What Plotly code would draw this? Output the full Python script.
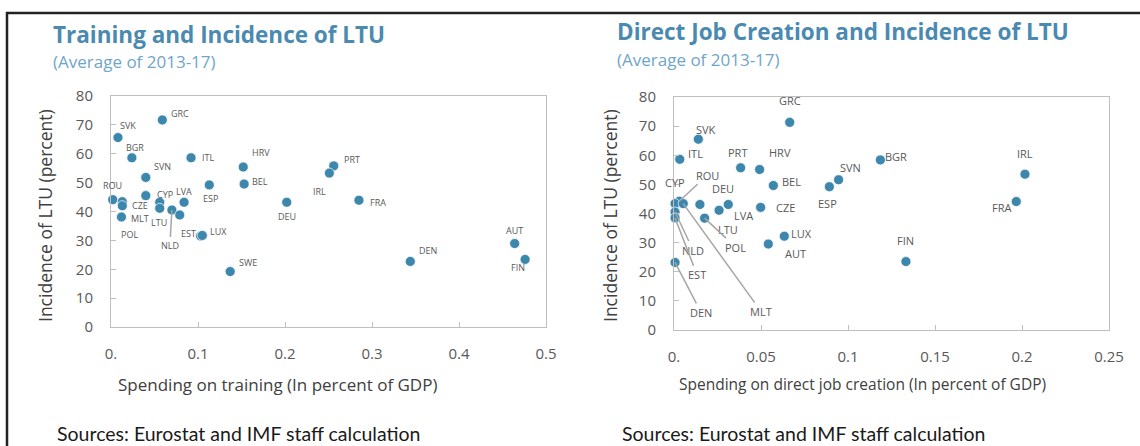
import plotly.graph_objects as go
from plotly.subplots import make_subplots

W, H = 1140, 446

# Training chart
train_countries = ["SVK", "GRC", "BGR", "ITL", "SVN", "HRV", "BEL", "ESP", "ROU", "POL",
                   "CZE", "MLT", "CYP", "", "LTU", "LVA", "NLD", "", "EST", "LUX",
                   "SWE", "PRT", "IRL", "DEU", "FRA", "AUT", "DEN", "FIN"]
train_spend = [0.008, 0.059, 0.024, 0.092, 0.040, 0.152, 0.153, 0.113, 0.002, 0.013,
               0.013, 0.012, 0.040, 0.056, 0.056, 0.084, 0.070, 0.079, 0.103, 0.105,
               0.137, 0.256, 0.251, 0.202, 0.285, 0.464, 0.344, 0.476]
train_ltu = [65.6, 71.7, 58.6, 58.6, 51.8, 55.4, 49.5, 49.2, 44.1, 43.4,
             42.0, 38.1, 45.5, 43.2, 41.1, 43.2, 40.5, 38.8, 31.5, 31.7,
             19.2, 55.8, 53.3, 43.2, 43.9, 28.9, 22.7, 23.4]

# Direct job creation chart
jobs_countries = ["GRC", "SVK", "ITL", "PRT", "HRV", "BEL", "ROU", "CYP", "MLT", "DEU",
                  "LVA", "LTU", "CZE", "POL", "NLD", "EST", "DEN", "LUX", "AUT", "BGR",
                  "SVN", "ESP", "IRL", "FRA", "FIN"]
jobs_spend = [0.0665, 0.014, 0.0033, 0.0383, 0.0492, 0.0571, 0.0030, 0.0006, 0.0053, 0.0149,
              0.0312, 0.0259, 0.0498, 0.0176, 0.0006, 0.0006, 0.0006, 0.0634, 0.0542, 0.1186,
              0.0946, 0.0893, 0.2017, 0.1967, 0.1333]
jobs_ltu = [71.3, 65.5, 58.6, 55.7, 55.1, 49.6, 44.2, 43.4, 43.4, 43.1,
            43.1, 41.1, 42.1, 38.4, 40.5, 38.5, 23.2, 32.2, 29.5, 58.4,
            51.6, 49.2, 53.5, 44.1, 23.5]

y_ticks = [0, 10, 20, 30, 40, 50, 60, 70, 80]
train_xticks = [0, 0.1, 0.2, 0.3, 0.4, 0.5]
train_xtext = ["0.", "0.1", "0.2", "0.3", "0.4", "0.5"]
jobs_xticks = [0, 0.05, 0.1, 0.15, 0.2, 0.25]
jobs_xtext = ["0.", "0.05", "0.1", "0.15", "0.2", "0.25"]

# label offsets in pixels (dx right, dy down) from the marker
train_offsets = {
    "SVK": (10, -12), "GRC": (18, -6), "BGR": (3, -10), "ITL": (17, 0), "SVN": (17, -11),
    "HRV": (18, -15), "BEL": (16, -3), "ESP": (1, 14), "ROU": (0, -14), "POL": (7, 33),
    "CZE": (18, 0), "MLT": (19, 2), "CYP": (19, -1), "LTU": (-1, 14), "LVA": (0, -11),
    "EST": (-12, -3), "LUX": (16, -4), "SWE": (18, -9), "PRT": (18, -6), "IRL": (-10, 18),
    "DEU": (0, 14), "FRA": (19, 2), "AUT": (0, -13), "DEN": (18, -11), "FIN": (-7, 8),
}
train_leaders = {"NLD": (-2, 35)}

jobs_offsets = {
    "GRC": (0, -22), "SVK": (8, -10), "ITL": (16, -6), "PRT": (-3, -15), "HRV": (20, -17),
    "BEL": (18, -4), "CYP": (0, -21), "DEU": (23, -16), "LVA": (15, 11), "LTU": (9, 19),
    "CZE": (25, 0), "LUX": (17, -3), "AUT": (27, 9), "BGR": (16, -3), "SVN": (12, -12),
    "ESP": (-2, 17), "IRL": (0, -21), "FRA": (-15, 6), "FIN": (0, -21),
}
jobs_leaders = {"ROU": (28, -26), "MLT": (78, 108), "POL": (31, 29), "NLD": (18, 38),
                "EST": (22, 57), "DEN": (26, 50)}

MARK = "#3D87AD"
AXIS = "#BFBFBF"
TXT = "#404040"
LAB = "#595959"


# page pixel -> paper fraction
def px(x):
    return x / W


def py(y):
    return 1 - y / H


fig = make_subplots(rows=1, cols=2)

fig.add_trace(go.Scatter(x=train_spend, y=train_ltu, mode="markers", cliponaxis=False,
                         marker=dict(size=10, color=MARK, line=dict(width=1, color="rgba(255,255,255,0.7)")),
                         hoverinfo="skip", showlegend=False), row=1, col=1)
fig.add_trace(go.Scatter(x=jobs_spend, y=jobs_ltu, mode="markers", cliponaxis=False,
                         marker=dict(size=10, color=MARK, line=dict(width=1, color="rgba(255,255,255,0.7)")),
                         hoverinfo="skip", showlegend=False), row=1, col=2)


def add_labels(names, xs, ys, offsets, leaders, xr, yr, size):
    for n, x, y in zip(names, xs, ys):
        if n in offsets:
            dx, dy = offsets[n]
            fig.add_annotation(x=x, y=y, xref=xr, yref=yr, text=n, showarrow=False,
                               xshift=dx, yshift=-dy,
                               font=dict(family="Open Sans", size=size, color=LAB))
        elif n in leaders:
            dx, dy = leaders[n]
            fig.add_annotation(x=x, y=y, xref=xr, yref=yr, text=n, showarrow=True,
                               arrowhead=0, arrowwidth=1.5, arrowcolor="#A6A6A6",
                               ax=dx, ay=dy, standoff=0,
                               font=dict(family="Open Sans", size=size, color=LAB))


add_labels(train_countries, train_spend, train_ltu, train_offsets, train_leaders, "x", "y", 9)
add_labels(jobs_countries, jobs_spend, jobs_ltu, jobs_offsets, jobs_leaders, "x2", "y2", 11)

axis_common = dict(showline=True, mirror=True, linecolor=AXIS, linewidth=1, showgrid=False,
                   zeroline=False, ticks="inside", ticklen=5, tickcolor=AXIS, automargin=False,
                   tickfont=dict(family="Open Sans", size=15, color="#595959"))

fig.update_xaxes(axis_common, range=[0, 0.5], tickvals=train_xticks, ticktext=train_xtext,
                 domain=[px(111), px(546)], ticklabelstandoff=13, row=1, col=1)
fig.update_xaxes(axis_common, range=[0, 0.25], tickvals=jobs_xticks, ticktext=jobs_xtext,
                 domain=[px(674), px(1109)], ticklabelstandoff=13, row=1, col=2)
fig.update_yaxes(axis_common, range=[0, 80], tickvals=y_ticks,
                 domain=[py(327), py(96)], ticklabelstandoff=14, row=1, col=1)
fig.update_yaxes(axis_common, range=[0, 80], tickvals=y_ticks,
                 domain=[py(330), py(97)], ticklabelstandoff=14, row=1, col=2)

texts = [
    ("Training and Incidence of LTU", 51, 34, dict(family="Open Sans", size=22.5, color="#4A8AB0"), "<b>{}</b>"),
    ("(Average of 2013-17)", 51, 61, dict(family="Open Sans", size=17, color="#6FA5CB"), "{}"),
    ("Direct Job Creation and Incidence of LTU", 615, 32, dict(family="Open Sans", size=22.5, color="#4A8AB0"), "<b>{}</b>"),
    ("(Average of 2013-17)", 615, 59, dict(family="Open Sans", size=17, color="#6FA5CB"), "{}"),
    ("Sources: Eurostat and IMF staff calculation", 55, 433, dict(family="Lato", size=19.5, color="#1A1A1A"), "{}"),
    ("Sources: Eurostat and IMF staff calculation", 620, 433, dict(family="Lato", size=19.5, color="#1A1A1A"), "{}"),
]
for t, x, y, f, fmt in texts:
    fig.add_annotation(x=px(x), y=py(y), xref="paper", yref="paper", text=fmt.format(t),
                       showarrow=False, xanchor="left", yanchor="middle", font=f)

# axis titles
fig.add_annotation(x=px(277), y=py(384), xref="paper", yref="paper", xanchor="center", yanchor="middle",
                   text="Spending on training (In percent of GDP)", showarrow=False,
                   font=dict(family="Open Sans", size=17, color=TXT))
fig.add_annotation(x=px(862), y=py(384), xref="paper", yref="paper", xanchor="center", yanchor="middle",
                   text="Spending on direct job creation (In percent of GDP)", showarrow=False,
                   font=dict(family="Open Sans", size=15.5, color=TXT))
fig.add_annotation(x=px(45), y=py(216), xref="paper", yref="paper", textangle=-90,
                   xanchor="center", yanchor="middle",
                   text="Incidence of LTU (percent)", showarrow=False,
                   font=dict(family="Open Sans", size=17.5, color=TXT))
fig.add_annotation(x=px(610), y=py(216), xref="paper", yref="paper", textangle=-90,
                   xanchor="center", yanchor="middle",
                   text="Incidence of LTU (percent)", showarrow=False,
                   font=dict(family="Open Sans", size=17.5, color=TXT))

# outer frame (top and left edges)
fig.add_shape(type="line", xref="paper", yref="paper", x0=px(6), x1=1, y0=py(13), y1=py(13),
              line=dict(color="#222222", width=2.5))
fig.add_shape(type="line", xref="paper", yref="paper", x0=px(7), x1=px(7), y0=py(12), y1=0,
              line=dict(color="#222222", width=2.5))

fig.update_layout(width=W, height=H, margin=dict(l=0, r=0, t=0, b=0, autoexpand=False),
                  paper_bgcolor="white", plot_bgcolor="white")

fig.write_html("out.html", config={"displayModeBar": False},
               post_script="document.body.style.margin='0';document.body.style.overflow='hidden';")
